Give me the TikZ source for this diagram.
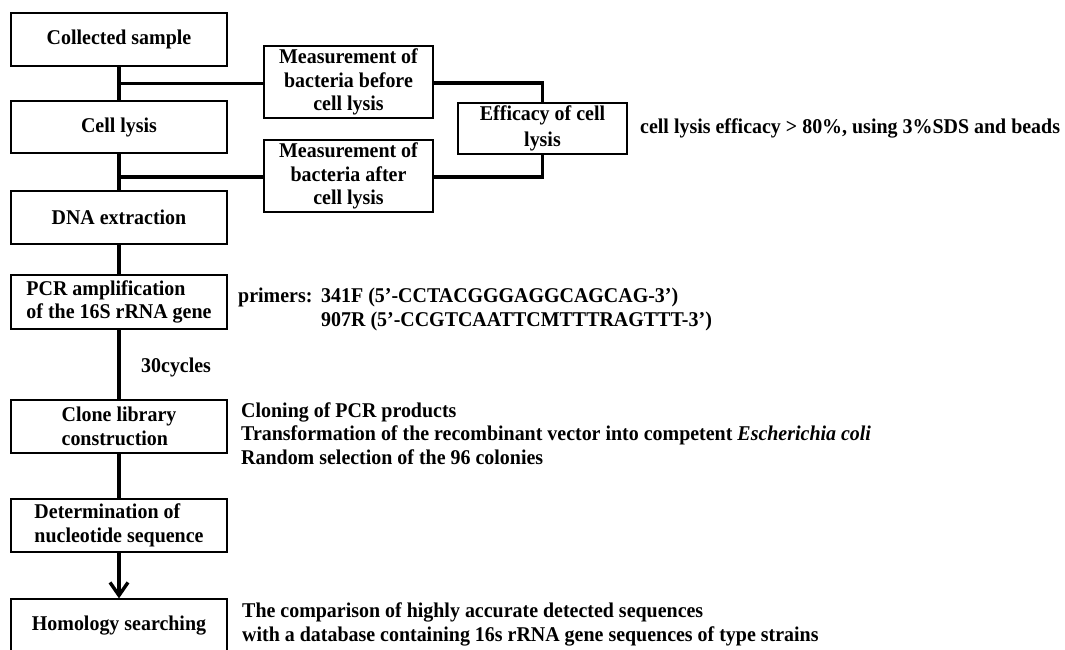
\documentclass[tikz,border=0pt]{standalone}
\usepackage{fontspec}
\setmainfont{Liberation Serif}[FakeStretch=0.95]
\usetikzlibrary{arrows.meta}
\tikzset{
  fnt/.style={font=\fontsize{21}{23.8}\selectfont\bfseries},
  box/.style={draw, line width=1.2pt, minimum width=216pt, minimum height=53pt, inner sep=0pt, align=center, fnt},
  sidebox/.style={draw, line width=1.2pt, minimum width=169pt, minimum height=72pt, inner sep=0pt, align=center, fnt},
  conn/.style={line width=3.8pt},
  txt/.style={fnt, inner sep=0pt, align=left, anchor=west},
}
\begin{document}
\begin{tikzpicture}[x=1pt,y=-1pt]
\useasboundingbox (0,0) rectangle (1065,649);
\clip (0,0) rectangle (1065,649);
\fill[white] (0,0) rectangle (1065,649);
% main column
\node[box] (cs) at (119,39.5) {Collected sample};
\node[box, minimum height=52pt] (cl) at (119,127) {Cell lysis};
\node[box] (dna) at (119,217.5) {DNA extraction};
\node[box, minimum height=54pt, align=left] (pcr) at (119,302) {PCR amplification\\of the 16S rRNA gene};
\node[box, align=left] (clone) at (119,426.5) {Clone library\\construction};
\node[box, align=left] (det) at (119,525.5) {Determination of\\nucleotide sequence};
\node[box] (hom) at (119,625.5) {Homology searching};
% side boxes
\node[sidebox] (mb) at (348.5,82) {Measurement of\\bacteria before\\cell lysis};
\node[sidebox] (ma) at (348.5,176) {Measurement of\\bacteria after\\cell lysis};
\node[sidebox, minimum height=51pt, font=\fontsize{21}{26.5}\selectfont\bfseries] (eff) at (542.5,128.5) {Efficacy of cell\\lysis};
% main connectors
\draw[conn] (cs.south) -- (cl.north);
\draw[conn] (cl.south) -- (dna.north);
\draw[conn] (dna.south) -- (pcr.north);
\draw[conn] (pcr.south) -- (clone.north);
\draw[conn] (clone.south) -- (det.north);
\draw[conn, -{Straight Barb[length=13pt,width=18pt,line width=3.4pt]}] (det.south) -- (hom.north);
% branch connectors
\draw[conn] ([yshift=-1.5pt]mb.west) -- ([yshift=-1.5pt]mb.west -| cs.south);
\draw[conn] ([yshift=-1pt]ma.west) -- ([yshift=-1pt]ma.west -| cl.south);
\draw[conn] ([yshift=-1pt]mb.east) -| (eff.north);
\draw[conn] ([yshift=-1pt]ma.east) -| (eff.south);
% annotations
\node[txt] (effnote) at (640,128) {cell lysis efficacy > 80\%, using 3\%SDS and beads};
\node[txt] (prim) at (238,297) {primers:};
\node[txt] (p1) at (321,297) {341F (5’-CCTACGGGAGGCAGCAG-3’)};
\node[txt] (p2) at (321,321) {907R (5’-CCGTCAATTCMTTTRAGTTT-3’)};
\node[txt] (cyc) at (141,367) {30cycles};
\node[txt] (clonenote) at (241,433.5) {Cloning of PCR products\\Transformation of the recombinant vector into competent \textit{Escherichia coli}\\Random selection of the 96 colonies};
\node[txt] (homnote) at (242,624.5) {The comparison of highly accurate detected sequences\\with a database containing 16s rRNA gene sequences of type strains};
\end{tikzpicture}
\end{document}
